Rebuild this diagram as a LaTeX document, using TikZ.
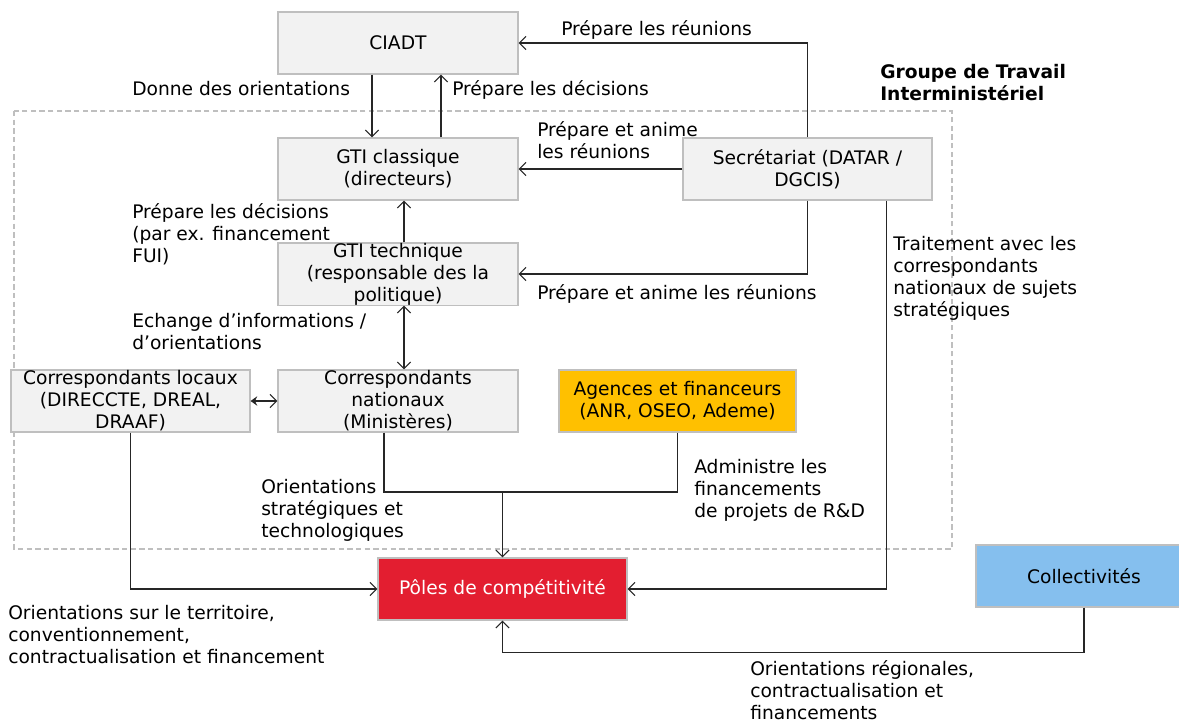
\documentclass[tikz,border=0pt]{standalone}
\usepackage{fontspec}
\setmainfont{DejaVu Sans}
\usetikzlibrary{arrows.meta}
\definecolor{boxfill}{HTML}{F2F2F2}
\definecolor{boxline}{HTML}{BFBFBF}
\definecolor{polred}{HTML}{E31E30}
\definecolor{agorange}{HTML}{FFC000}
\definecolor{collblue}{HTML}{85BFEE}
\definecolor{dashgray}{HTML}{BFBFBF}
\begin{document}
\begin{tikzpicture}[x=0.75pt,y=-0.75pt,
  every node/.style={font=\fontsize{14pt}{16.5pt}\selectfont},
  box/.style={draw=boxline, fill=boxfill, line width=0.8pt, minimum height=46.5pt, inner sep=0pt, align=center},
  lbl/.style={anchor=north west, inner sep=0pt, align=left},
  arr/.style={draw=black!85, line width=0.8pt, -{Straight Barb[length=5pt,width=10pt]}},
  darr/.style={draw=black!85, line width=0.8pt, {Straight Barb[length=5pt,width=10pt]}-{Straight Barb[length=5pt,width=10pt]}},
  lnk/.style={draw=black!85, line width=0.8pt}
]
\useasboundingbox (0,0) rectangle (1179,722);

% dashed group frame
\draw[dashgray, line width=0.8pt, dash pattern=on 4pt off 2.5pt] (14,111) rectangle (952,549);
\node[lbl, font=\fontsize{14pt}{16.5pt}\selectfont\bfseries] (grp) at (880,63) {\strut Groupe de Travail\\Interministériel};

% boxes
\node[box, minimum width=180pt] (ciadt) at (398,43) {CIADT};
\node[box, minimum width=180pt] (gtic) at (398,169) {GTI classique\\(directeurs)};
\node[box, minimum width=186.75pt] (sec) at (807.5,169) {Secrétariat (DATAR /\\DGCIS)};
\node[box, minimum width=180pt] (gtit) at (398,274) {GTI technique\\(responsable des la\\politique)};
\node[box, minimum width=179.25pt] (loc) at (130.5,401) {Correspondants locaux\\(DIRECCTE, DREAL,\\DRAAF)};
\node[box, minimum width=180pt] (nat) at (398,401) {Correspondants\\nationaux\\(Ministères)};
\node[box, minimum width=177.75pt, fill=agorange] (ag) at (677.5,401) {Agences et financeurs\\(ANR, OSEO, Ademe)};
\node[box, minimum width=186.75pt, fill=polred, text=white] (poles) at (502.5,589) {Pôles de compétitivité};
\node[box, minimum width=162pt, fill=collblue] (coll) at (1084,576) {Collectivités};

% helper coordinates
\coordinate (m) at (502.5,492);

% connectors
\draw[arr] ([xshift=-19.5pt]ciadt.south) -- ([xshift=-19.5pt]gtic.north);
\draw[arr] ([xshift=32.25pt]gtic.north) -- ([xshift=32.25pt]ciadt.south);
\draw[arr] (sec.north) |- (ciadt.east);
\draw[arr] (sec.west) -- (gtic.east);
\draw[arr] (sec.south) |- (gtit.east);
\draw[arr] ([xshift=4.5pt]gtit.north) -- ([xshift=4.5pt]gtic.south);
\draw[darr] ([xshift=4.5pt]gtit.south) -- ([xshift=4.5pt]nat.north);
\draw[line width=0.8pt, draw=black!85, {Stealth[length=5pt,width=7pt]}-{Straight Barb[length=5pt,width=10pt]}] (loc.east) -- (nat.west);
\draw[arr] (loc.south) |- (poles.west);
\draw[lnk] ([xshift=-10.5pt]nat.south) |- (m);
\draw[lnk] (ag.south) |- (m);
\draw[arr] (m) -- (poles.north);
\draw[arr] ([xshift=58.9pt]sec.south) |- (poles.east);
\draw[arr] (coll.south) -- ++(0,45) -| (poles.south);

% labels
\node[lbl] (l1) at (561,20) {\strut Prépare les réunions};
\node[lbl] (l2) at (132,80) {\strut Donne des orientations};
\node[lbl] (l3) at (452,80) {\strut Prépare les décisions};
\node[lbl] (l4) at (537,121) {\strut Prépare et anime\\les réunions};
\node[lbl] (l5) at (132,203) {\strut Prépare les décisions\\(par ex. financement\\FUI)};
\node[lbl] (l6) at (537,284) {\strut Prépare et anime les réunions};
\node[lbl] (l7) at (132,312) {\strut Echange d’informations /\\d’orientations};
\node[lbl] (l8) at (893,235) {\strut Traitement avec les\\correspondants\\nationaux de sujets\\stratégiques};
\node[lbl] (l9) at (261,478) {\strut Orientations\\stratégiques et\\technologiques};
\node[lbl] (l10) at (694,458) {\strut Administre les\\financements\\de projets de R\&D};
\node[lbl] (l11) at (8,604) {\strut Orientations sur le territoire,\\conventionnement,\\contractualisation et financement};
\node[lbl] (l12) at (750,660) {\strut Orientations régionales,\\contractualisation et\\financements};
\end{tikzpicture}
\end{document}
